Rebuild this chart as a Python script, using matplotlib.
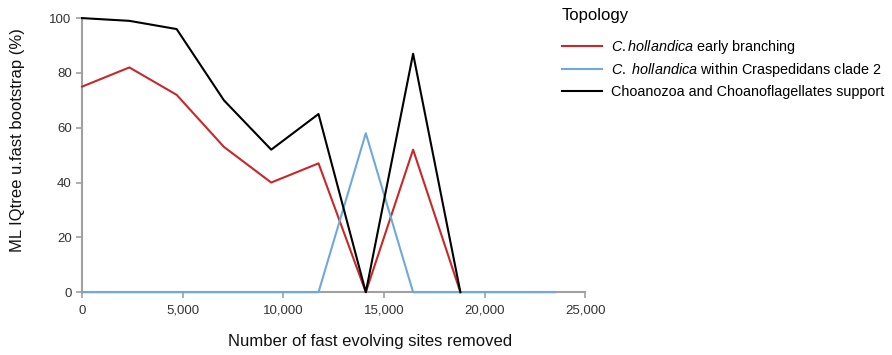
import matplotlib
matplotlib.use("Agg")
import matplotlib.pyplot as plt
from matplotlib.ticker import FuncFormatter

plt.rcParams["font.family"] = ["Liberation Sans", "DejaVu Sans"]
plt.rcParams["mathtext.fontset"] = "custom"
plt.rcParams["mathtext.rm"] = "Liberation Sans"
plt.rcParams["mathtext.it"] = "Liberation Sans:italic"

sites_removed = [0, 2350, 4700, 7050, 9400, 11750, 14100, 16450, 18800, 21150, 23500]
early_branching = [75, 82, 72, 53, 40, 47, 0, 52, 0]
within_clade2 = [0, 0, 0, 0, 0, 0, 58, 0, 0, 0, 0]
choanozoa_support = [100, 99, 96, 70, 52, 65, 0, 87, 0]

labels = [
    r"$\it{C.hollandica}$ early branching",
    r"$\it{C.\ hollandica}$ within Craspedidans clade 2",
    "Choanozoa and Choanoflagellates support",
]
colors = ["#c8282a", "#6fa8dc", "#000000"]

fig = plt.figure(figsize=(8.92, 3.55), dpi=100)
ax = fig.add_axes([0.092, 0.177, 0.564, 0.772])

series = [early_branching, within_clade2, choanozoa_support]
for vals, col, lab in zip(series, colors, labels):
    ax.plot(sites_removed[:len(vals)], vals, color=col, lw=1.5, label=lab,
            zorder=3, clip_on=False)

ax.set_xlim(0, 25000)
ax.set_ylim(0, 100)
ax.set_xticks([0, 5000, 10000, 15000, 20000, 25000])
ax.set_yticks([0, 20, 40, 60, 80, 100])
ax.xaxis.set_major_formatter(FuncFormatter(lambda v, p: f"{int(v):,}"))

for s in ["top", "right"]:
    ax.spines[s].set_visible(False)
for s in ["left", "bottom"]:
    ax.spines[s].set_color("#a0a0a0")
    ax.spines[s].set_linewidth(1.5)
ax.tick_params(axis="both", colors="#a0a0a0", labelcolor="#333333", labelsize=9.5,
               length=4, width=1.2, direction="out")
ax.tick_params(axis="x", pad=5)

ax.set_xlabel("Number of fast evolving sites removed", fontsize=12, color="#111111")
ax.xaxis.set_label_coords(0.573, -0.153)
ax.set_ylabel("ML IQtree u.fast bootstrap (%)", fontsize=12, color="#111111")
ax.yaxis.set_label_coords(-0.113, 0.555)

leg = fig.legend(loc="upper left", bbox_to_anchor=(0.615, 1.015), frameon=False,
                 title="Topology", fontsize=10.4, title_fontsize=12,
                 handlelength=2.8, handletextpad=0.65, labelspacing=0.37)
leg._legend_box.align = "left"
leg._legend_box.sep = 11

fig.savefig("out.png", dpi=100)
